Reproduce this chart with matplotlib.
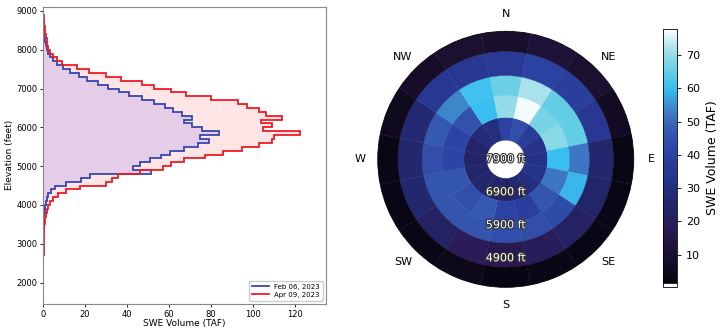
import numpy as np
import matplotlib
matplotlib.use("Agg")
import matplotlib.pyplot as plt
import matplotlib.patheffects as pe
from matplotlib.colors import LinearSegmentedColormap, Normalize

# elevation profile, 100 ft bins (lower edges)
red_edges = list(range(1400, 9100, 100))
red_vals = [0.05, 0.05, 0.05, 0.05, 0.05, 0.05, 0.1, 0.1, 0.1, 0.1,
            0.1, 0.1, 0.1, 0.15, 0.15, 0.2, 0.2, 0.25, 0.3, 0.4,
            0.5, 0.7, 0.9, 1.2, 1.6, 2.4, 3.2, 4.8, 7.0, 11.0,
            17.5, 30.0, 33.0, 35.5, 46.0, 57.0, 61.0, 67.0, 77.0, 86.0,
            95.0, 103.0, 109.0, 110.0, 122.5, 105.0, 109.0, 104.0, 114.0, 106.5,
            103.0, 97.0, 93.0, 80.0, 68.0, 61.0, 53.0, 47.0, 37.0, 30.0,
            22.0, 16.0, 9.0, 6.5, 4.8, 3.2, 2.5, 2.0, 1.6, 1.3,
            1.0, 0.8, 0.6, 0.4, 0.2, 0.1]
blue_edges = list(range(2700, 9000, 100))
blue_vals = [0.05, 0.05, 0.05, 0.05, 0.1, 0.1, 0.1, 0.15, 0.2, 0.3,
             0.5, 0.7, 1.0, 1.3, 1.8, 2.4, 3.5, 5.6, 11.0, 18.0,
             22.5, 51.5, 43.0, 46.0, 51.0, 56.0, 60.5, 67.0, 74.0, 79.0,
             75.0, 84.0, 76.0, 71.0, 67.0, 71.0, 66.0, 62.0, 58.0, 53.0,
             47.0, 41.0, 36.0, 31.0, 26.0, 21.0, 17.0, 13.0, 9.5, 6.4,
             4.8, 3.2, 2.4, 1.6, 1.1, 0.8, 0.6, 0.4, 0.3, 0.2,
             0.1, 0.05]
label_blue = "Feb 06, 2023"
label_red = "Apr 09, 2023"

# aspect/elevation rose: 16 sectors clockwise from N, rings inner -> outer
directions = ["N", "NE", "E", "SE", "S", "SW", "W", "NW"]
ring_edges = [7320, 6630, 5960, 5360, 4630, 4020]
ring_1 = [40, 44, 37, 33, 32, 33, 30, 26, 24, 25, 26, 25, 24, 25, 28, 30]
ring_2 = [70, 77, 67, 69, 60, 52, 46, 38, 40, 47, 44, 46, 41, 41, 45, 60]
ring_3 = [66, 72, 65, 65, 52, 59, 43, 44, 44, 46, 46, 46, 44, 47, 54, 61]
ring_4 = [36, 40, 38, 35, 26, 25, 23, 20, 17, 19, 23, 26, 26, 27, 35, 35]
ring_5 = [9, 12, 10, 7, 3, 3, 3, 3, 2, 4, 3, 3, 3, 5, 8, 10]
ring_labels = [7900, 6900, 5900, 4900]
vmin, vmax = 0.3, 77.9

# colormap close to the one in the picture (black -> purple -> blue -> cyan -> white)
anchors = [(0.3, "#ffffff"), (1.2, "#ffffff"), (1.3, "#050510"), (10, "#1c1030"),
           (18, "#2a1a55"), (25, "#23256a"), (32, "#263288"), (40, "#2b42a2"),
           (47, "#3558b0"), (53, "#3f7cc4"), (60, "#38bff0"), (66, "#6cd0e4"),
           (72, "#a8e2ea"), (77.9, "#ffffff")]
cmap = LinearSegmentedColormap.from_list(
    "swe", [((v - vmin) / (vmax - vmin), c) for v, c in anchors], N=1024)
norm = Normalize(vmin, vmax)

fig = plt.figure(figsize=(7.2, 3.29), dpi=100)

# ---- left: elevation histogram
ax = fig.add_axes([0.060, 0.076, 0.393, 0.904])
ax.stairs(red_vals, red_edges, orientation="horizontal", fill=True,
          color="red", alpha=0.1, linewidth=0)
ax.stairs(blue_vals, blue_edges, orientation="horizontal", fill=True,
          color="blue", alpha=0.1, linewidth=0)
ax.stairs(blue_vals, blue_edges, orientation="horizontal", color="#3547b2",
          linewidth=1.3, label=label_blue)
ax.stairs(red_vals, red_edges, orientation="horizontal", color="#ee1c25",
          linewidth=1.3, label=label_red)
ax.set_xlim(0, 135)
ax.set_ylim(1450, 9110)
ax.set_xticks(range(0, 140, 20))
ax.set_yticks(range(2000, 10000, 1000))
ax.tick_params(labelsize=6, length=2.5, width=0.6, pad=1.5)
ax.set_xlabel("SWE Volume (TAF)", fontsize=6.5, labelpad=0.5)
ax.set_ylabel("Elevation (feet)", fontsize=6.5, labelpad=2)
for s in ax.spines.values():
    s.set_color("#888888")
ax.legend(loc="lower right", fontsize=5, handlelength=2.4, borderpad=0.4,
          labelspacing=0.3, framealpha=1)

# ---- right: polar rose
pax = fig.add_axes([0.5246, 0.1267, 0.3556, 0.7781], projection="polar")
pax.set_theta_zero_location("N")
pax.set_theta_direction(-1)
width = 2 * np.pi / 16
theta = np.arange(16) * width
rings = [ring_1, ring_2, ring_3, ring_4, ring_5]
for i, vals in enumerate(rings):
    cols = cmap(norm(np.array(vals)))
    pax.bar(theta, ring_edges[i + 1] - ring_edges[i], width=width,
            bottom=ring_edges[i], color=cols, edgecolor=cols, linewidth=0.3)
pax.set_rlim(7900, ring_edges[-1])
pax.set_yticks([])
pax.grid(False)
pax.set_xticks(np.deg2rad(np.arange(0, 360, 45)))
pax.set_xticklabels(directions, fontsize=8)
pax.tick_params(axis="x", pad=2)
pax.spines["polar"].set_linewidth(0.6)
for e in ring_labels:
    pax.text(np.pi, e, f"{e} ft", ha="center", va="center", fontsize=8,
             color="white", path_effects=[pe.withStroke(linewidth=1.6, foreground="#333333")])

# colorbar
cax = fig.add_axes([0.921, 0.128, 0.0194, 0.784])
sm = plt.cm.ScalarMappable(norm=norm, cmap=cmap)
cb = fig.colorbar(sm, cax=cax, ticks=range(10, 80, 10))
cb.ax.tick_params(labelsize=8, length=3, width=0.6)
cb.set_label("SWE Volume (TAF)", fontsize=9)
cb.outline.set_linewidth(0.6)

fig.savefig("out.png", dpi=100)
